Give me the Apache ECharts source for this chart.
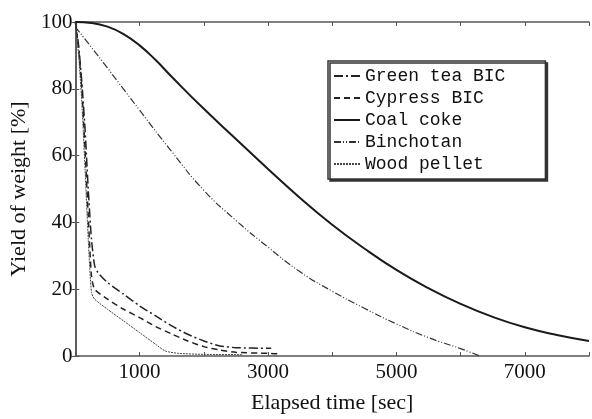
<!DOCTYPE html>
<html>
<head>
<meta charset="utf-8">
<script src="https://cdn.jsdelivr.net/npm/echarts@6/dist/echarts.min.js"></script>
<style>
  html, body { margin: 0; padding: 0; background: #fff; }
  #chart { width: 592px; height: 419px; }
</style>
</head>
<body>
<div id="chart"></div>
<script>
// series values: time [sec] and yield of weight [%]
const greenTeaTime = [0, 50, 100, 150, 200, 250, 300, 350, 500, 750, 1000, 1250, 1500, 1750, 2000, 2250, 2500, 3050];
const greenTeaYield = [100, 93, 82, 68, 50, 35, 27, 25, 22, 18.5, 15, 12, 9, 6.5, 4.5, 3, 2.5, 2.3];

const cypressTime = [0, 50, 100, 150, 200, 250, 300, 500, 750, 1000, 1250, 1500, 1750, 2000, 2250, 2500, 3000, 3200];
const cypressYield = [100, 92, 80, 62, 42, 24, 20, 17, 14, 11.5, 8.8, 6.6, 4.5, 2.8, 1.8, 1.1, 0.8, 0.6];

const cokeTime = [0, 250, 500, 750, 1000, 1250, 1500, 2000, 2500, 3000, 3500, 4000, 4500, 5000, 5500, 6000, 6500, 7000, 7500, 8000];
const cokeYield = [100, 99.7, 98.6, 96.4, 93, 88.6, 83.6, 74, 65, 56, 47.3, 39.3, 32.2, 25.8, 20.3, 15.6, 11.7, 8.6, 6.3, 4.5];

const binchotanTime = [0, 250, 500, 750, 1000, 1500, 2000, 2500, 3000, 3500, 4000, 4500, 5000, 5500, 6000, 6300];
const binchotanYield = [98.5, 92.4, 86.2, 79.9, 73.6, 61.2, 49.6, 40.6, 32.6, 25.2, 19.4, 14.3, 9.6, 5.5, 2.2, 0];

const pelletTime = [0, 50, 100, 150, 200, 250, 300, 500, 750, 1000, 1250, 1400, 1600, 2000, 2600];
const pelletYield = [100, 90, 76, 56, 35, 19, 17, 14, 10.5, 7, 3.5, 1.5, 0.8, 0.5, 0.4];

const legendNames = ['Green tea BIC', 'Cypress BIC', 'Coal coke', 'Binchotan', 'Wood pellet'];

function pairs(xs, ys) {
  return xs.map((x, i) => [x, ys[i]]);
}

const chart = echarts.init(document.getElementById('chart'));

const serif = 'Liberation Serif';
const axisColor = '#555';

function xAxisBase(pos) {
  return {
    type: 'value',
    position: pos,
    min: 0,
    max: 8000,
    interval: 1000,
    axisLine: { show: true, onZero: false, lineStyle: { color: axisColor, width: 1.5 } },
    axisTick: { show: true, inside: true, length: 4, lineStyle: { color: axisColor } },
    splitLine: { show: false }
  };
}
function yAxisBase(pos) {
  return {
    type: 'value',
    position: pos,
    min: 0,
    max: 100,
    interval: 20,
    axisLine: { show: true, lineStyle: { color: axisColor, width: 1.5 } },
    axisTick: { show: true, inside: true, length: 4, lineStyle: { color: axisColor } },
    splitLine: { show: false }
  };
}

const option = {
  animation: false,
  backgroundColor: '#fff',
  grid: { left: 70, right: 1, top: 22, bottom: 60 },
  legend: {
    data: legendNames,
    orient: 'vertical',
    left: 328,
    top: 61,
    padding: [6, 40, 6, 5],
    itemWidth: 26,
    itemHeight: 12,
    itemGap: 4,
    backgroundColor: '#fff',
    borderColor: '#333',
    borderWidth: 1.5,
    shadowColor: '#333',
    shadowBlur: 0,
    shadowOffsetX: 2,
    shadowOffsetY: 2,
    itemStyle: { opacity: 0 },
    textStyle: { fontFamily: 'Liberation Mono', fontSize: 18, color: '#111', lineHeight: 18 }
  },
  xAxis: [
    Object.assign(xAxisBase('bottom'), {
      name: 'Elapsed time [sec]',
      nameLocation: 'middle',
      nameGap: 36,
      nameTextStyle: { fontFamily: serif, fontSize: 22, color: '#111' },
      axisLabel: {
        fontFamily: serif, fontSize: 21, color: '#111', margin: 6,
        formatter: v => (v % 2000 === 1000 ? String(v) : '')
      }
    }),
    Object.assign(xAxisBase('top'), { axisLabel: { show: false } })
  ],
  yAxis: [
    Object.assign(yAxisBase('left'), {
      name: 'Yield of weight [%]',
      nameLocation: 'middle',
      nameGap: 38,
      nameTextStyle: { fontFamily: serif, fontSize: 22, color: '#111' },
      axisLabel: { fontFamily: serif, fontSize: 21, color: '#111', margin: 3 }
    }),
    Object.assign(yAxisBase('right'), { axisLabel: { show: false } })
  ],
  series: [
    {
      name: 'Green tea BIC', type: 'line', symbol: 'none', smooth: 0.2,
      itemStyle: { color: '#222' },
      lineStyle: { color: '#222', width: 1.5, type: [9, 3, 2, 3] },
      data: pairs(greenTeaTime, greenTeaYield)
    },
    {
      name: 'Cypress BIC', type: 'line', symbol: 'none', smooth: 0.2,
      itemStyle: { color: '#222' },
      lineStyle: { color: '#222', width: 1.5, type: [6, 4] },
      data: pairs(cypressTime, cypressYield)
    },
    {
      name: 'Coal coke', type: 'line', symbol: 'none', smooth: 0.5,
      itemStyle: { color: '#1a1a1a' },
      lineStyle: { color: '#1a1a1a', width: 2, type: 'solid' },
      data: pairs(cokeTime, cokeYield)
    },
    {
      name: 'Binchotan', type: 'line', symbol: 'none', smooth: 0.5,
      itemStyle: { color: '#333' },
      lineStyle: { color: '#333', width: 1.2, type: [7, 2, 1, 2, 1, 2] },
      data: pairs(binchotanTime, binchotanYield)
    },
    {
      name: 'Wood pellet', type: 'line', symbol: 'none', smooth: 0.2,
      itemStyle: { color: '#444' },
      lineStyle: { color: '#444', width: 1, type: [2, 1] },
      data: pairs(pelletTime, pelletYield)
    }
  ]
};

option && chart.setOption(option);
</script>
</body>
</html>
